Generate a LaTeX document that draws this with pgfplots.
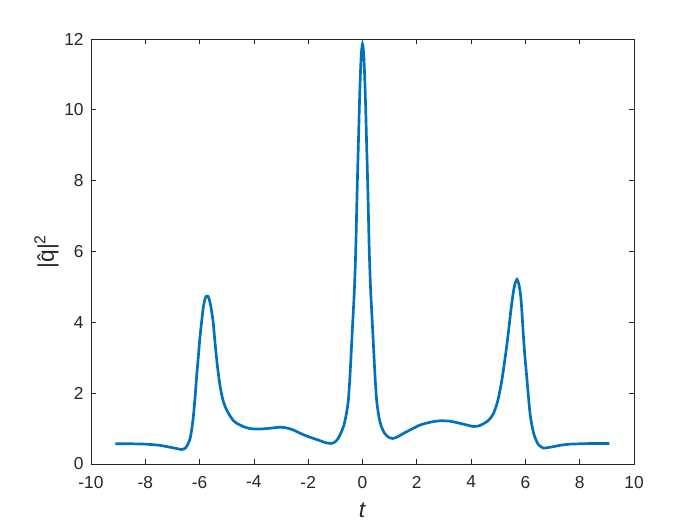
\documentclass[border=0pt]{standalone}
\usepackage{fontspec}
\setmainfont{Liberation Sans}
\usepackage{pgfplots}
\pgfplotsset{compat=1.18}
\definecolor{mblue}{RGB}{0,114,189}
\definecolor{axgray}{RGB}{38,38,38}
\begin{document}
\begin{tikzpicture}
\begin{axis}[
  scale only axis,
  width=407.25pt, height=318.75pt,
  xmin=-10, xmax=10, ymin=0, ymax=12,
  xtick={-10,-8,...,10}, ytick={0,2,...,12},
  tick align=inside,
  major tick length=3.5pt,
  axis line style={axgray, line width=0.6pt},
  every tick/.style={axgray, line width=0.6pt},
  tick label style={font=\fontsize{13}{15}\selectfont, text=axgray},
  /pgf/number format/assume math mode=true,
  xticklabel style={yshift=-5.5pt},
  yticklabel style={xshift=-2pt},
  xlabel={\textit{t}},
  ylabel={|\^{q}|\textsuperscript{2}},
  label style={font=\fontsize{17}{20}\selectfont, text=axgray},
  xlabel style={at={(axis description cs:0.5,-0.108)}, anchor=center},
  ylabel style={at={(axis description cs:-0.082,0.5)}, anchor=center},
]
\addplot[mblue, line width=2pt, smooth, tension=0.45] table {
x y
-9.10 0.57
-8.50 0.57
-8.00 0.56
-7.50 0.53
-7.20 0.49
-7.00 0.46
-6.80 0.43
-6.66 0.41
-6.52 0.45
-6.42 0.58
-6.35 0.72
-6.29 0.98
-6.23 1.34
-6.17 1.85
-6.11 2.46
-6.05 3.00
-5.99 3.55
-5.92 4.05
-5.86 4.44
-5.80 4.66
-5.75 4.74
-5.70 4.74
-5.65 4.66
-5.60 4.50
-5.56 4.33
-5.50 4.00
-5.43 3.41
-5.37 2.95
-5.31 2.55
-5.25 2.22
-5.19 1.97
-5.13 1.78
-5.06 1.62
-5.00 1.52
-4.88 1.36
-4.76 1.23
-4.63 1.15
-4.40 1.06
-4.20 1.01
-4.00 0.99
-3.70 0.99
-3.40 1.01
-3.00 1.04
-2.70 1.00
-2.55 0.96
-2.30 0.87
-2.06 0.79
-1.80 0.72
-1.57 0.66
-1.35 0.60
-1.14 0.58
-1.00 0.63
-0.90 0.72
-0.83 0.82
-0.75 0.96
-0.69 1.08
-0.64 1.24
-0.58 1.48
-0.52 1.81
-0.46 2.50
-0.40 3.40
-0.35 4.15
-0.30 4.90
-0.25 6.00
-0.20 7.65
-0.15 9.10
-0.10 10.50
-0.05 11.50
0.00 11.85
0.05 11.50
0.10 10.50
0.15 9.10
0.20 7.65
0.25 6.00
0.30 4.90
0.35 4.15
0.40 3.40
0.46 2.50
0.52 1.81
0.58 1.45
0.64 1.20
0.71 1.03
0.80 0.88
0.89 0.80
1.00 0.74
1.11 0.72
1.30 0.77
1.50 0.86
1.80 0.98
2.12 1.10
2.50 1.18
2.85 1.22
3.20 1.21
3.47 1.17
3.80 1.11
4.08 1.06
4.30 1.08
4.57 1.19
4.70 1.28
4.82 1.42
4.92 1.62
5.00 1.84
5.10 2.22
5.19 2.65
5.28 3.15
5.37 3.69
5.46 4.30
5.55 4.82
5.62 5.10
5.69 5.21
5.76 5.07
5.83 4.72
5.88 4.20
5.92 3.69
5.98 3.05
6.05 2.46
6.11 1.92
6.17 1.43
6.23 1.13
6.30 0.88
6.35 0.76
6.42 0.63
6.50 0.53
6.66 0.45
6.80 0.46
7.03 0.49
7.30 0.53
7.64 0.56
8.00 0.57
8.50 0.58
9.09 0.58
};
\end{axis}
\pgfresetboundingbox
\path[use as bounding box] ([xshift=-68.25pt,yshift=-45.75pt]current axis.south west) rectangle ([xshift=49.5pt,yshift=29.25pt]current axis.north east);
\end{tikzpicture}
\end{document}
